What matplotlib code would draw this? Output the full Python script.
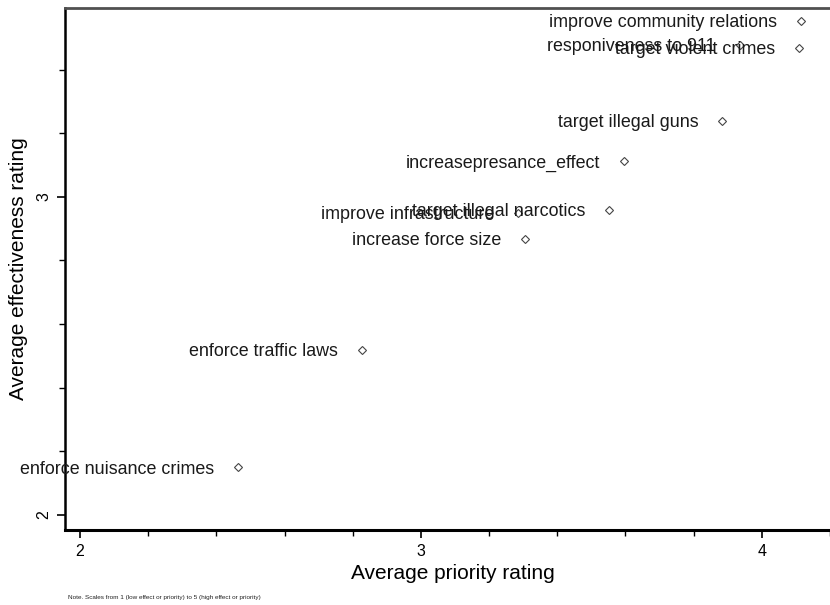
import matplotlib
matplotlib.use("Agg")
import matplotlib.pyplot as plt
from matplotlib.ticker import MultipleLocator

plt.rcParams["font.family"] = ["Liberation Sans", "DejaVu Sans"]

# mean ratings per policing goal
goals = [
    "improve community relations",
    "target violent crimes",
    "responiveness to 911",
    "target illegal guns",
    "increasepresance_effect",
    "target illegal narcotics",
    "improve infrastructure",
    "increase force size",
    "enforce traffic laws",
    "enforce nuisance crimes",
]
priority = [4.114, 4.108, 3.935, 3.883, 3.595, 3.551, 3.284, 3.305, 2.827, 2.463]
effectiveness = [3.553, 3.469, 3.478, 3.239, 3.113, 2.959, 2.950, 2.868, 2.519, 2.151]

fig = plt.figure(figsize=(8.3, 6.05), dpi=100)
ax = fig.add_axes([0.0783, 0.124, 0.934, 0.863])

ax.plot(priority, effectiveness, linestyle="none", marker="D", markersize=4.2,
        markerfacecolor="white", markeredgecolor="#444444", markeredgewidth=0.8)
for name, px, py in zip(goals, priority, effectiveness):
    ax.annotate(name, (px, py), xytext=(-17, -1.5), textcoords="offset points",
                ha="right", va="center", fontsize=12.9, color="#1a1a1a")

ax.set_xlim(1.956, 4.23)
ax.set_ylim(1.953, 3.594)
ax.xaxis.set_major_locator(MultipleLocator(1))
ax.xaxis.set_minor_locator(MultipleLocator(0.2))
ax.yaxis.set_major_locator(MultipleLocator(1))
ax.yaxis.set_minor_locator(MultipleLocator(0.2))
ax.tick_params(which="major", length=6, width=1.2, labelsize=11.5, pad=4)
ax.tick_params(which="minor", length=4, width=1.0)
for lab in ax.get_yticklabels():
    lab.set_rotation(90)
    lab.set_va("center")

ax.spines["top"].set_color("#505050")
ax.spines["top"].set_linewidth(2)
ax.spines["left"].set_linewidth(1.8)
ax.spines["bottom"].set_linewidth(2.2)
ax.spines["right"].set_visible(False)

ax.set_xlabel("Average priority rating", fontsize=15, labelpad=4)
ax.set_ylabel("Average effectiveness rating", fontsize=15, labelpad=6)

fig.text(0.082, 0.008, "Note. Scales from 1 (low effect or priority) to 5 (high effect or priority)",
         fontsize=4.6, color="#222222", ha="left", va="bottom")

fig.savefig("out.png", dpi=100)
